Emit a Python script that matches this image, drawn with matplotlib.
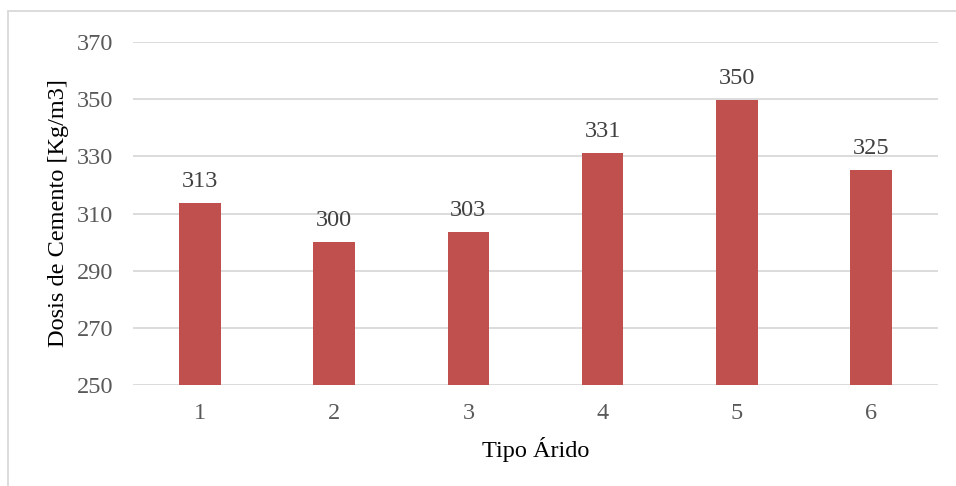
import matplotlib
matplotlib.use("Agg")
import matplotlib.pyplot as plt
from matplotlib.patches import Rectangle

categories = ["1", "2", "3", "4", "5", "6"]
values = [313.5, 300.1, 303.5, 331.3, 349.6, 325.2]
labels = ["313", "300", "303", "331", "350", "325"]
yticks = [250, 270, 290, 310, 330, 350, 370]

plt.rcParams['font.family'] = ['Liberation Serif', 'DejaVu Serif']
FS = 17.5

fig = plt.figure(figsize=(9.56, 4.86), dpi=100)
ax = fig.add_axes([133/956, 1-385/486, (938-133)/956, (385-42)/486])

x = list(range(len(categories)))
bars = ax.bar(x, values, width=0.31, color="#C0504D", zorder=3)
for xi, v, lab in zip(x, values, labels):
    ax.annotate(lab, (xi, v), xytext=(0, 8), textcoords="offset points",
                ha="center", va="bottom", fontsize=FS, color="#404040")

ax.set_xlim(-0.5, len(categories) - 0.5)
ax.set_ylim(250, 370)
ax.set_yticks(yticks)
ax.set_xticks(x)
ax.set_xticklabels(categories)
ax.grid(axis="y", color="#D9D9D9", linewidth=1.3, zorder=0)
for s in ax.spines.values():
    s.set_visible(False)
ax.tick_params(axis="both", length=0, labelsize=FS, colors="#595959")
ax.tick_params(axis="y", pad=14)
ax.tick_params(axis="x", pad=13)
ax.set_xlabel("Tipo Árido", fontsize=FS, color="black", labelpad=9)
ax.set_ylabel("Dosis de Cemento [Kg/m3]", fontsize=FS, color="black", labelpad=6)

fig.patches.append(Rectangle((8/956, -0.1), 1.2, 1 - 11/486 + 0.1, transform=fig.transFigure,
                             fill=False, edgecolor="#D9D9D9", linewidth=1.3))

fig.savefig("out.png", dpi=100)
